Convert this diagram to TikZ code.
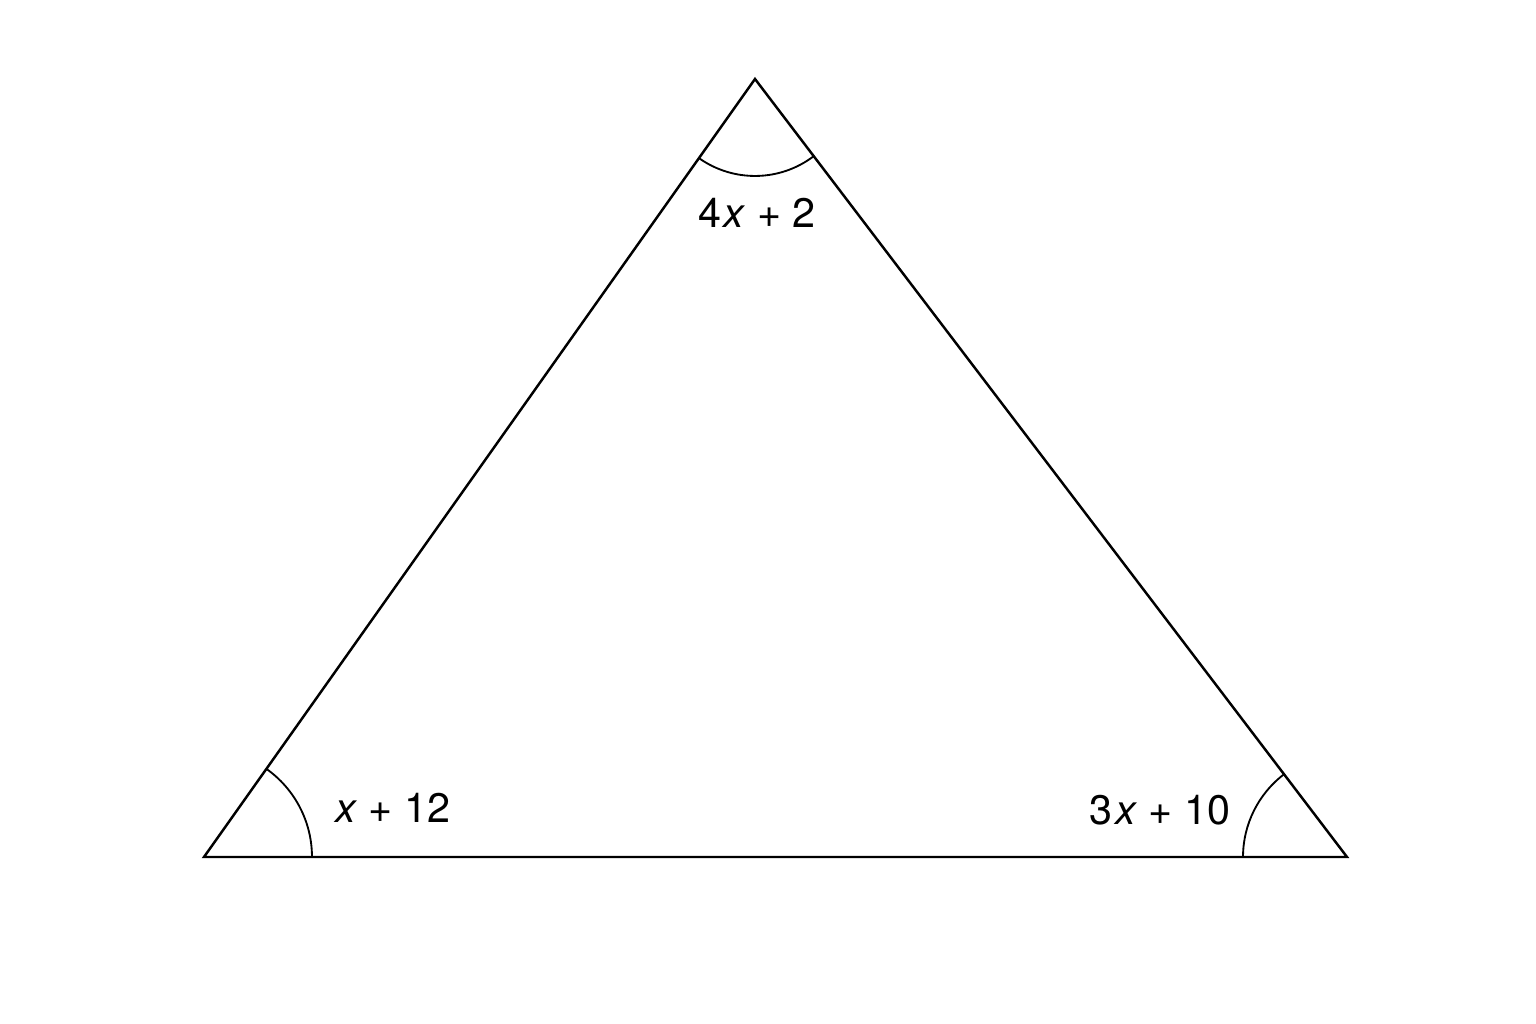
\documentclass[tikz,border=0pt]{standalone}
\usepackage{fontspec}
\setmainfont{TeX Gyre Heros}
\usetikzlibrary{angles}
\begin{document}
\begin{tikzpicture}[x=0.02cm,y=0.02cm,
  side/.style={line width=1.4pt, line join=miter},
  arcmark/.style={draw, line width=1.05pt},
  lbl/.style={font=\fontsize{23.5}{28}\selectfont, inner sep=0pt}]
\useasboundingbox[fill=white] (0,0) rectangle (1536,1024);
\coordinate (T) at (755,945);
\coordinate (L) at (204,167);
\coordinate (R) at (1347,167);
\draw[side] (T) -- (L) -- (R) -- cycle;
\pic[arcmark, angle radius=1.94cm] {angle = L--T--R};
\pic[arcmark, angle radius=2.16cm] {angle = R--L--T};
\pic[arcmark, angle radius=2.08cm] {angle = T--R--L};
\node[lbl] (lt) at (757,811) {4\kern1.5pt\textit{x} + 2};
\node[lbl] (ll) at (393,216) {\textit{x} + 12};
\node[lbl] (lr) at (1160,214) {3\kern1.5pt\textit{x} + 10};
\end{tikzpicture}
\end{document}
